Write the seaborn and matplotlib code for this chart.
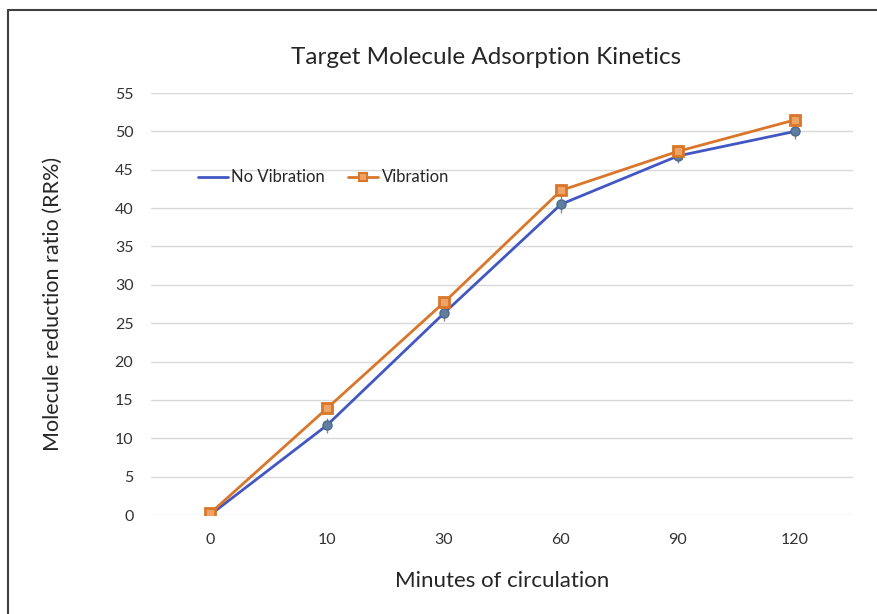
import pandas as pd
import seaborn as sns
import matplotlib.pyplot as plt
from matplotlib.lines import Line2D

# 데이터
minutes = ["0", "10", "30", "60", "90", "120"]
no_vibration = [0.0, 11.7, 26.3, 40.5, 46.8, 50.0]
no_vibration_err = [0.3, 1.0, 1.0, 1.1, 0.9, 1.0]
vibration = [0.2, 13.9, 27.7, 42.3, 47.4, 51.5]
vibration_err = [0.3, 0.7, 0.8, 0.8, 0.7, 0.8]

BLUE = "#4257c4"
BLUE_MARK = "#5f7ea0"
ORANGE = "#d9762a"
ORANGE_FILL = "#eea466"


def set_config():
    sns.set_theme(style="white")
    plt.rcParams["font.family"] = ["Lato", "DejaVu Sans"]


def main():
    set_config()

    pos = list(range(len(minutes)))
    df = pd.DataFrame({
        "pos": pos * 2,
        "value": no_vibration + vibration,
        "err": no_vibration_err + vibration_err,
        "series": ["No Vibration"] * len(pos) + ["Vibration"] * len(pos),
    })

    fig = plt.figure(figsize=(8.77, 6.14), dpi=100)
    ax = fig.add_axes([0.1727, 0.1612, 0.8005, 0.6873])

    # 오차막대
    for name, g in df.groupby("series"):
        ax.errorbar(g["pos"], g["value"], yerr=g["err"], fmt="none",
                    ecolor="#8a8a8a", elinewidth=1, capsize=0, zorder=2)

    sns.lineplot(data=df, x="pos", y="value", hue="series", style="series",
                 palette={"No Vibration": BLUE, "Vibration": ORANGE},
                 markers={"No Vibration": "o", "Vibration": "s"},
                 dashes=False, linewidth=2, markersize=0, legend=False,
                 ax=ax, zorder=3)

    g = df[df.series == "No Vibration"]
    ax.plot(g["pos"], g["value"], "o", ms=6.5, mfc=BLUE_MARK, mec="#4d6a8a",
            mew=1, zorder=4)
    g = df[df.series == "Vibration"]
    ax.plot(g["pos"], g["value"], "s", ms=7.5, mfc=ORANGE_FILL, mec=ORANGE,
            mew=2, zorder=5)

    ax.set_xlim(-0.5, len(minutes) - 0.5)
    ax.set_ylim(0, 55)
    ax.set_xticks(pos)
    ax.set_xticklabels(minutes)
    ax.set_yticks(range(0, 56, 5))
    ax.tick_params(axis="both", labelsize=11.5, colors="#333333", length=0)
    ax.tick_params(axis="x", pad=13)
    ax.tick_params(axis="y", pad=13)
    ax.yaxis.grid(True, color="#d9d9d9", linewidth=1)
    ax.xaxis.grid(False)
    for s in ax.spines.values():
        s.set_visible(False)

    ax.set_xlabel("Minutes of circulation", fontsize=16, color="#262626",
                  labelpad=17)
    ax.set_ylabel("Molecule reduction ratio (RR%)", fontsize=15.5,
                  color="#262626", labelpad=37)
    fig.text(486 / 877, 1 - 57 / 614, "Target Molecule Adsorption Kinetics",
             fontsize=17.5, color="#262626", ha="center", va="center")

    handles = [
        Line2D([], [], color=BLUE, lw=2),
        Line2D([], [], color=ORANGE, lw=2, marker="s", ms=6,
               mfc=ORANGE_FILL, mec=ORANGE, mew=1.5),
    ]
    ax.legend(handles, ["No Vibration", "Vibration"], loc="center left",
              bbox_to_anchor=(0.045, 0.8), ncol=2, frameon=False,
              fontsize=12, handlelength=1.8, handletextpad=0.2,
              columnspacing=1.4, labelcolor="#262626")

    # 바깥 테두리 (왼쪽, 위쪽)
    fig.add_artist(Line2D([8 / 877, 8 / 877], [0, 1 - 10 / 614],
                          color="#404040", lw=1.5, transform=fig.transFigure))
    fig.add_artist(Line2D([8 / 877, 1], [1 - 10 / 614, 1 - 10 / 614],
                          color="#404040", lw=1.5, transform=fig.transFigure))

    fig.savefig("out.png", dpi=100)


if __name__ == "__main__":
    main()
